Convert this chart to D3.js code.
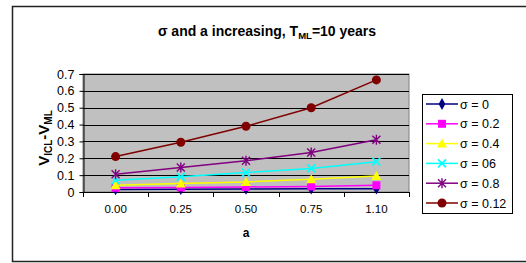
<!DOCTYPE html>
<html>
<head>
<meta charset="utf-8">
<script src="https://cdn.jsdelivr.net/npm/d3@7"></script>
<style>
  body { margin: 0; background: #fff; }
  svg { display: block; font-family: "Liberation Sans", Arial, sans-serif; }
</style>
</head>
<body>
<svg id="chart" width="526" height="263"></svg>
<script>
// data
var categories = ["0.00", "0.25", "0.50", "0.75", "1.10"];
var seriesNames = ["σ = 0", "σ = 0.2", "σ = 0.4", "σ = 06", "σ = 0.8", "σ = 0.12"];
var sigma0   = [0.015, 0.017, 0.018, 0.020, 0.020];
var sigma02  = [0.025, 0.027, 0.030, 0.033, 0.040];
var sigma04  = [0.040, 0.050, 0.060, 0.075, 0.095];
var sigma06  = [0.070, 0.090, 0.115, 0.140, 0.180];
var sigma08  = [0.105, 0.145, 0.185, 0.235, 0.310];
var sigma012 = [0.210, 0.295, 0.390, 0.500, 0.665];
var yTicks = [0, 0.1, 0.2, 0.3, 0.4, 0.5, 0.6, 0.7];

var colors = ["#000080", "#ff00ff", "#ffff00", "#00ffff", "#800080", "#800000"];
var markers = ["diamond", "square", "triangle", "x", "star", "circle"];
var allSeries = [sigma0, sigma02, sigma04, sigma06, sigma08, sigma012];

var svg = d3.select("#chart");

// outer frame
svg.append("rect")
  .attr("x", 12.5).attr("y", 6.5)
  .attr("width", 520).attr("height", 255)
  .attr("fill", "#fff")
  .attr("stroke", "#222")
  .attr("stroke-width", 1.5);

var plot = { left: 83, right: 409, top: 74, bottom: 192 };

var x = d3.scaleBand().domain(categories).range([plot.left, plot.right]);
var y = d3.scaleLinear().domain([0, 0.7]).range([plot.bottom, plot.top]);

// plot background
svg.append("rect")
  .attr("x", plot.left).attr("y", plot.top)
  .attr("width", plot.right - plot.left).attr("height", plot.bottom - plot.top)
  .attr("fill", "#c0c0c0")
  .attr("stroke", "#808080");

// gridlines
svg.append("g")
  .selectAll("line")
  .data(yTicks.slice(1))
  .enter().append("line")
  .attr("x1", plot.left).attr("x2", plot.right)
  .attr("y1", function(d) { return Math.round(y(d)) + 0.5; })
  .attr("y2", function(d) { return Math.round(y(d)) + 0.5; })
  .attr("stroke", "#000")
  .attr("stroke-width", 1);

// y axis
var yAxis = svg.append("g")
  .attr("transform", "translate(" + (plot.left + 0.5) + ",0)")
  .call(d3.axisLeft(y).tickValues(yTicks).tickSize(4).tickPadding(5)
    .tickFormat(function(d) { return d === 0 ? "0" : d3.format(".1f")(d); }));
yAxis.select(".domain").attr("stroke", "#000");
yAxis.selectAll("text").attr("font-size", 12.5).attr("fill", "#000").attr("font-family", "Liberation Sans, Arial, sans-serif");

// x axis with ticks between categories
var xAxisG = svg.append("g");
xAxisG.append("line")
  .attr("x1", plot.left).attr("x2", plot.right)
  .attr("y1", plot.bottom + 0.5).attr("y2", plot.bottom + 0.5)
  .attr("stroke", "#000");
var bounds = categories.map(function(c) { return x(c); }).concat([x(categories[categories.length - 1]) + x.bandwidth()]);
xAxisG.selectAll("line.tick")
  .data(bounds)
  .enter().append("line")
  .attr("class", "tick")
  .attr("x1", function(d) { return Math.round(d) + 0.5; })
  .attr("x2", function(d) { return Math.round(d) + 0.5; })
  .attr("y1", plot.bottom).attr("y2", plot.bottom + 5)
  .attr("stroke", "#000");
xAxisG.selectAll("text")
  .data(categories)
  .enter().append("text")
  .attr("x", function(d) { return x(d) + x.bandwidth() / 2; })
  .attr("y", 213)
  .attr("text-anchor", "middle")
  .attr("font-size", 11.5)
  .text(function(d) { return d; });

// axis titles
svg.append("text")
  .attr("x", 246).attr("y", 237)
  .attr("text-anchor", "middle")
  .attr("font-size", 12).attr("font-weight", "bold")
  .text("a");

var yTitle = svg.append("text")
  .attr("transform", "translate(49,138) rotate(-90)")
  .attr("text-anchor", "middle")
  .attr("font-size", 15).attr("font-weight", "bold");
yTitle.append("tspan").text("V");
yTitle.append("tspan").attr("font-size", 10).attr("dy", 3).text("ICL");
yTitle.append("tspan").attr("dy", -3).text("-V");
yTitle.append("tspan").attr("font-size", 10).attr("dy", 3).text("ML");

// chart title
var title = svg.append("text")
  .attr("x", 267).attr("y", 36)
  .attr("text-anchor", "middle")
  .attr("font-size", 14).attr("font-weight", "bold");
title.append("tspan").text("σ and a increasing, T");
title.append("tspan").attr("font-size", 9.5).attr("dy", 3).text("ML");
title.append("tspan").attr("dy", -3).text("=10 years");

function drawMarker(g, type, cx, cy, color) {
  if (type === "diamond") {
    g.append("path").attr("d", d3.symbol().type(d3.symbolDiamond).size(40)())
      .attr("transform", "translate(" + cx + "," + cy + ")").attr("fill", color);
  } else if (type === "square") {
    g.append("rect").attr("x", cx - 4).attr("y", cy - 4).attr("width", 8).attr("height", 8).attr("fill", color);
  } else if (type === "triangle") {
    g.append("path").attr("d", "M" + cx + "," + (cy - 5) + "L" + (cx + 5) + "," + (cy + 4) + "L" + (cx - 5) + "," + (cy + 4) + "Z").attr("fill", color);
  } else if (type === "x") {
    g.append("path").attr("d", "M" + (cx - 4) + "," + (cy - 4) + "L" + (cx + 4) + "," + (cy + 4) + "M" + (cx + 4) + "," + (cy - 4) + "L" + (cx - 4) + "," + (cy + 4))
      .attr("stroke", color).attr("stroke-width", 1.6).attr("fill", "none");
  } else if (type === "star") {
    g.append("path").attr("d", "M" + (cx - 4) + "," + (cy - 4) + "L" + (cx + 4) + "," + (cy + 4) + "M" + (cx + 4) + "," + (cy - 4) + "L" + (cx - 4) + "," + (cy + 4) + "M" + cx + "," + (cy - 5) + "L" + cx + "," + (cy + 5))
      .attr("stroke", color).attr("stroke-width", 1.4).attr("fill", "none");
  } else if (type === "circle") {
    g.append("circle").attr("cx", cx).attr("cy", cy).attr("r", 4.5).attr("fill", color);
  }
}

var line = d3.line()
  .x(function(d, i) { return x(categories[i]) + x.bandwidth() / 2; })
  .y(function(d) { return y(d); });

// series lines and markers (navy first so it sits at the bottom)
allSeries.forEach(function(vals, s) {
  var g = svg.append("g");
  g.append("path")
    .datum(vals)
    .attr("d", line)
    .attr("fill", "none")
    .attr("stroke", colors[s])
    .attr("stroke-width", 1.5);
  vals.forEach(function(v, i) {
    drawMarker(g, markers[s], x(categories[i]) + x.bandwidth() / 2, y(v), colors[s]);
  });
});

// legend
var legend = svg.append("g");
legend.append("rect")
  .attr("x", 422.5).attr("y", 94.5)
  .attr("width", 90).attr("height", 119)
  .attr("fill", "#fff").attr("stroke", "#000");
seriesNames.forEach(function(name, s) {
  var ly = 104 + s * 19.8;
  legend.append("line")
    .attr("x1", 426).attr("x2", 458)
    .attr("y1", ly).attr("y2", ly)
    .attr("stroke", colors[s]).attr("stroke-width", 1.5);
  drawMarker(legend, markers[s], 442, ly, colors[s]);
  legend.append("text")
    .attr("x", 460).attr("y", ly + 4.5)
    .attr("font-size", 12.5)
    .text(name);
});
</script>
</body>
</html>
